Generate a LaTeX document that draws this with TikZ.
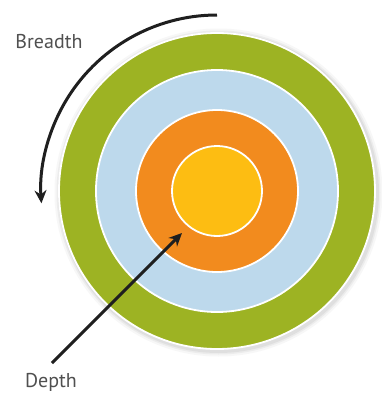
\documentclass[tikz,border=0pt]{standalone}
\usepackage{fontspec}
\setmainfont{PT Sans}
\usetikzlibrary{arrows.meta}
\definecolor{ringgreen}{HTML}{9DB323}
\definecolor{ringblue}{HTML}{BDD9EC}
\definecolor{ringorange}{HTML}{F28B1E}
\definecolor{ringyellow}{HTML}{FDBD12}
\definecolor{labelgray}{HTML}{505050}
\tikzset{
  ring/.style={draw=white, line width=1.8pt},
  lbl/.style={text=labelgray, font=\fontsize{20}{24}\selectfont, inner sep=0pt},
  arr/.style={line width=3pt, draw=black!88, -{Stealth[length=13pt,width=12pt]}}
}
\begin{document}
\begin{tikzpicture}[x=1pt,y=-1pt]
\useasboundingbox (0,0) rectangle (381,394);
\fill[white] (0,0) rectangle (381,394);
\coordinate (c) at (217,191);
% shadow
\foreach \r/\o in {164/0.05,162/0.07,160.5/0.09}{
  \fill[black!60, opacity=\o] ([xshift=1.5pt,yshift=-1.5pt]c) circle (\r);
}
\node[circle, ring, fill=ringgreen, minimum size=316pt, inner sep=0pt] (green) at (c) {};
\node[circle, ring, fill=ringblue, minimum size=242pt, inner sep=0pt] (blue) at (c) {};
\node[circle, ring, fill=ringorange, minimum size=162pt, inner sep=0pt] (orange) at (c) {};
\node[circle, ring, fill=ringyellow, minimum size=90pt, inner sep=0pt] (yellow) at (c) {};
\node[lbl] (breadth) at (49,42) {Breadth};
\node[lbl] (depth) at (51,382) {Depth};
\coordinate (bstart) at (217,15);
\coordinate (dstart) at (52,363);
\coordinate (dend) at (182,233);
\draw[arr] (bstart) arc[start angle=-90, end angle=-184, radius=176];
\draw[arr] (dstart) -- (dend);
\end{tikzpicture}
\end{document}
